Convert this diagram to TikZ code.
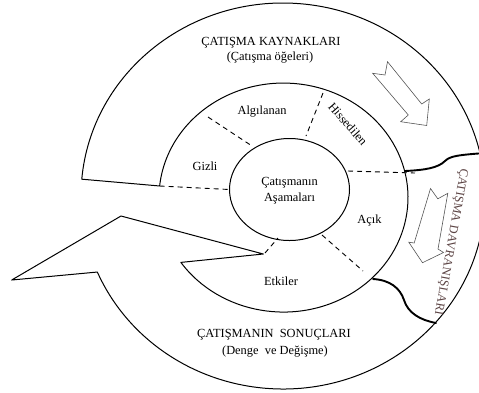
\documentclass[tikz,border=0pt]{standalone}
\usepackage{fontspec}
\setmainfont{Liberation Serif}
\usepackage{tikz}
\definecolor{darkrose}{HTML}{5C4444}
\definecolor{arrowgray}{HTML}{555555}

\begin{document}
\begin{tikzpicture}[x=1pt,y=-1pt,
    txt/.style={font=\fontsize{12.4}{14}\selectfont,inner sep=0pt},
    divline/.style={line width=0.9pt,dash pattern=on 5pt off 4pt},
    border/.style={line width=1pt,line join=round},
    wave/.style={line width=1.9pt,line cap=round},
    hollow/.style={arrowgray,line width=0.6pt,line join=miter}]
  \useasboundingbox (0,0) rectangle (479,392);
  \clip (0,0) rectangle (479,392);
  % spiral band with the arrow head on the left
  \draw[border] (283,196) ++(185:202 and 193)
    arc[start angle=185,end angle=516.8,x radius=202,y radius=193]
    -- (11.7,280) -- (121,216) -- (263.3,254) -- (180.9,262.4)
    arc[start angle=145.5,end angle=-174.2,x radius=124.5,y radius=114.5]
    -- cycle;
  \draw[border] (289.5,189.5) ellipse[x radius=60,y radius=51];
  % stage dividers
  \draw[divline] (159.6,186) -- (229.5,189.5);
  \draw[divline] (208,117) -- (252,146);
  \draw[divline] (323,93) -- (306,136);
  \draw[divline] (348,171) -- (415,173);
  \draw[divline] (322,235) -- (363,271);
  \draw[divline] (265,253) -- (278,238);
  % behaviour zone borders
  \draw[wave] (405,171) .. controls (425,170) and (438,168) .. (445,161)
    .. controls (450,156) and (458,155) .. (485,153);
  \draw[wave] (373,279) .. controls (390,280) and (400,288) .. (404,300)
    .. controls (408,313) and (420,320) .. (436,323);
  % hollow arrows
  \draw[hollow] (372.7,73.3) -- (385,75) -- (387.5,61.7) -- (421.7,104)
    -- (429.3,99) -- (426.7,125.5) -- (400.7,121.7) -- (408.3,115) -- cycle;
  \draw[hollow] (430.5,188.5) -- (437.8,198.8) -- (447.8,193.3) -- (438,249)
    -- (443.5,252.5) -- (422.5,262.7) -- (408.8,242.2) -- (414.2,243) -- cycle;
  % labels
  \node[txt] (kaynak) at (271,43) {ÇATIŞMA KAYNAKLARI};
  \node[txt] (oge) at (270,57.5) {(Çatışma öğeleri)};
  \node[txt] (algi) at (262,112) {Algılanan};
  \node[txt,rotate=-49] (hisse) at (348,124) {Hissedilen};
  \node[txt] (gizli) at (205,166) {Gizli};
  \node[txt] (cat) at (289.5,183) {Çatışmanın};
  \node[txt] (asama) at (289.5,199) {Aşamaları};
  \node[txt] (acik) at (369.5,221) {Açık};
  \node[txt] (etki) at (281,281) {Etkiler};
  \node[txt] (sonuc) at (274,335) {ÇATIŞMANIN\ \ SONUÇLARI};
  \node[txt] (denge) at (275,352) {(Denge\ \ ve\ Değişme)};
  \node[txt,text=darkrose,rotate=-100] (davran) at (450.5,242) {ÇATIŞMA DAVRANIŞLARI};
\end{tikzpicture}
\end{document}
